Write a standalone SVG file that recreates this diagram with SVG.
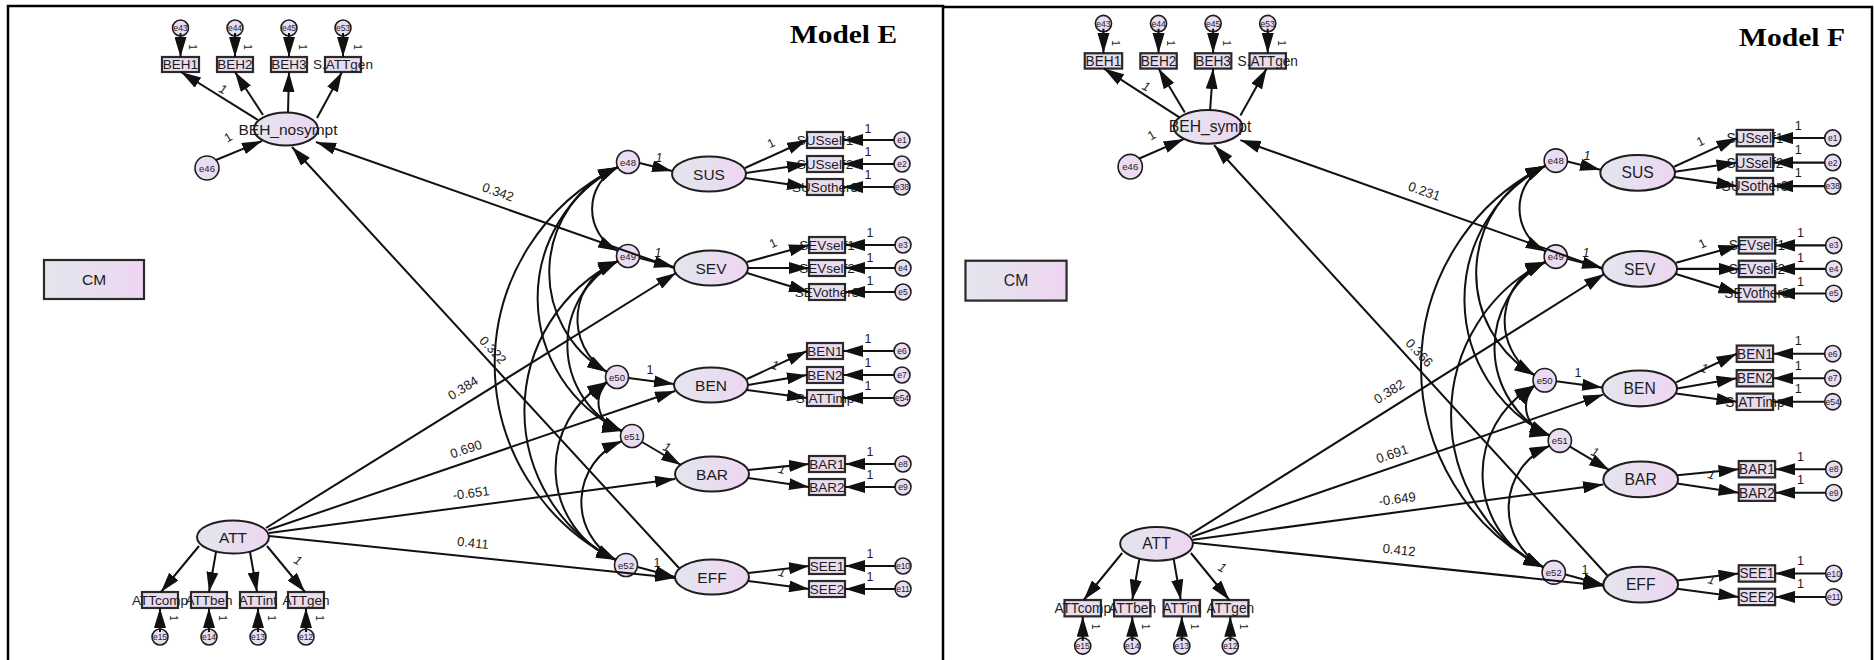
<svg xmlns="http://www.w3.org/2000/svg" width="1874" height="660" viewBox="0 0 1874 660">
<defs>
<linearGradient id="g" x1="0" y1="0" x2="1" y2="0"><stop offset="0" stop-color="#e2e6ee"/><stop offset="1" stop-color="#eed6f1"/></linearGradient>
<marker id="ah" markerUnits="userSpaceOnUse" viewBox="0 0 20 12" refX="20" refY="6" markerWidth="20" markerHeight="12" orient="auto-start-reverse"><path d="M0,0 L20,6 L0,12 z" fill="#111"/></marker>
</defs>
<style>
.ln{stroke:#111;stroke-width:2;fill:none}
.ar{marker-end:url(#ah)}
.cv{stroke:#111;stroke-width:2;fill:none;marker-start:url(#ah);marker-end:url(#ah)}
.lat{fill:url(#g);stroke:#1e1e1e;stroke-width:2}
.obs{fill:#e9dcef;stroke:#2a2a2a;stroke-width:2.2}
.err{fill:#eadcf2;stroke:#1e1e1e;stroke-width:1.6}
.cm{fill:url(#g);stroke:#2a2a2a;stroke-width:2.2}
.t{font-family:"Liberation Sans",Arial,sans-serif;fill:#1c1c1c;text-anchor:middle}
.tl{font-size:15.5px}
.to{font-size:13.5px}
.te{font-size:8.5px}
.tb{font-size:9.5px}
.tn{font-size:12.5px}
.ts{font-size:10px}
.it{font-style:italic}
.tc{font-size:13px}
.title{font-family:"Liberation Serif","Times New Roman",serif;font-weight:bold;font-size:26px;fill:#000;text-anchor:middle}
.frame{stroke:#000;stroke-width:2.5;fill:none}
</style>
<rect width="1874" height="660" fill="#fff"/>
<g id="frames">
<path class="frame" d="M8,660 L8,6 L943,6 L943,660"/>
<path class="frame" d="M943,7 L1872,7 L1872,660"/>
</g>
<text class="title" x="843.5" y="43" textLength="107" lengthAdjust="spacingAndGlyphs">Model E</text>
<text class="title" x="1792" y="46" textLength="106" lengthAdjust="spacingAndGlyphs">Model F</text>

<!-- ================= MODEL E ================= -->
<g id="modelE">
<g id="E-nodes">
<g id="E-BEH"><ellipse class="lat" cx="286" cy="129" rx="32" ry="16.5"/><text class="t tl" x="288" y="134.5">BEH_nosympt</text></g>
<g id="E-BEH1"><rect class="obs" x="162" y="57" width="37" height="15"/><text class="t to" x="180.5" y="69.4">BEH1</text></g>
<g id="E-BEH2"><rect class="obs" x="217" y="57" width="36" height="15"/><text class="t to" x="235" y="69.4">BEH2</text></g>
<g id="E-BEH3"><rect class="obs" x="271" y="57" width="36" height="15"/><text class="t to" x="289" y="69.4">BEH3</text></g>
<g id="E-SATTgen"><rect class="obs" x="325" y="57" width="36" height="15"/><text class="t to" x="343" y="69.4">S.ATTgen</text></g>
<g id="E-e43"><circle class="err" cx="180.5" cy="28" r="8"/><text class="t te" x="180.5" y="31">e43</text></g>
<g id="E-e44"><circle class="err" cx="235" cy="28" r="8"/><text class="t te" x="235" y="31">e44</text></g>
<g id="E-e45"><circle class="err" cx="289" cy="28" r="8"/><text class="t te" x="289" y="31">e45</text></g>
<g id="E-e53"><circle class="err" cx="343" cy="28" r="8"/><text class="t te" x="343" y="31">e53</text></g>
<g id="E-e46"><circle class="err" cx="207" cy="168" r="12"/><text class="t tb" x="207" y="171.5">e46</text></g>
<g id="E-CM"><rect class="cm" x="44" y="260" width="100" height="39"/><text class="t tl" x="94" y="285">CM</text></g>
<g id="E-ATT"><ellipse class="lat" cx="233" cy="537" rx="36" ry="16.5"/><text class="t tl" x="233" y="542.5">ATT</text></g>
<g id="E-ATTcomp"><rect class="obs" x="142" y="592" width="36" height="16"/><text class="t to" x="160" y="604.8">ATTcomp</text></g>
<g id="E-ATTbeh"><rect class="obs" x="191" y="592" width="36" height="16"/><text class="t to" x="209" y="604.8">ATTbeh</text></g>
<g id="E-ATTint"><rect class="obs" x="240" y="592" width="36" height="16"/><text class="t to" x="258" y="604.8">ATTint</text></g>
<g id="E-ATTgen"><rect class="obs" x="288" y="592" width="36" height="16"/><text class="t to" x="306" y="604.8">ATTgen</text></g>
<g id="E-e15"><circle class="err" cx="160" cy="637" r="8"/><text class="t te" x="160" y="640">e15</text></g>
<g id="E-e14"><circle class="err" cx="209" cy="637" r="8"/><text class="t te" x="209" y="640">e14</text></g>
<g id="E-e13"><circle class="err" cx="258" cy="637" r="8"/><text class="t te" x="258" y="640">e13</text></g>
<g id="E-e12"><circle class="err" cx="306" cy="637" r="8"/><text class="t te" x="306" y="640">e12</text></g>
<g id="E-e48"><circle class="err" cx="628" cy="162" r="11.5"/><text class="t tb" x="628" y="165.5">e48</text></g>
<g id="E-e49"><circle class="err" cx="628" cy="256" r="11.5"/><text class="t tb" x="628" y="259.5">e49</text></g>
<g id="E-e50"><circle class="err" cx="617" cy="377" r="11.5"/><text class="t tb" x="617" y="380.5">e50</text></g>
<g id="E-e51"><circle class="err" cx="632" cy="436" r="11.5"/><text class="t tb" x="632" y="439.5">e51</text></g>
<g id="E-e52"><circle class="err" cx="626" cy="565" r="11.5"/><text class="t tb" x="626" y="568.5">e52</text></g>
<g id="E-SUS"><ellipse class="lat" cx="709" cy="174" rx="37" ry="17.5"/><text class="t tl" x="709" y="179.5">SUS</text></g>
<g id="E-SEV"><ellipse class="lat" cx="711" cy="268" rx="37" ry="17.5"/><text class="t tl" x="711" y="273.5">SEV</text></g>
<g id="E-BEN"><ellipse class="lat" cx="711" cy="385" rx="37" ry="17.5"/><text class="t tl" x="711" y="390.5">BEN</text></g>
<g id="E-BAR"><ellipse class="lat" cx="712" cy="474" rx="37" ry="17.5"/><text class="t tl" x="712" y="479.5">BAR</text></g>
<g id="E-EFF"><ellipse class="lat" cx="712" cy="577" rx="37" ry="17.5"/><text class="t tl" x="712" y="582.5">EFF</text></g>
<g id="E-SUSself1"><rect class="obs" x="807" y="132" width="36" height="16"/><text class="t to" x="825" y="144.8">SUSself1</text></g>
<g id="E-SUSself2"><rect class="obs" x="807" y="156" width="36" height="16"/><text class="t to" x="825" y="168.8">SUSself2</text></g>
<g id="E-SUSother3"><rect class="obs" x="807" y="179" width="36" height="16"/><text class="t to" x="825" y="191.8">SUSother3</text></g>
<g id="E-SEVself1"><rect class="obs" x="809" y="237" width="36" height="16"/><text class="t to" x="827" y="249.8">SEVself1</text></g>
<g id="E-SEVself2"><rect class="obs" x="809" y="260" width="36" height="16"/><text class="t to" x="827" y="272.8">SEVself2</text></g>
<g id="E-SEVother3"><rect class="obs" x="809" y="284" width="36" height="16"/><text class="t to" x="827" y="296.8">SEVother3</text></g>
<g id="E-BEN1"><rect class="obs" x="807" y="343" width="36" height="16"/><text class="t to" x="825" y="355.8">BEN1</text></g>
<g id="E-BEN2"><rect class="obs" x="807" y="367" width="36" height="16"/><text class="t to" x="825" y="379.8">BEN2</text></g>
<g id="E-SATTimp"><rect class="obs" x="807" y="390" width="36" height="16"/><text class="t to" x="825" y="402.8">S.ATTimp</text></g>
<g id="E-BAR1"><rect class="obs" x="809" y="456" width="36" height="16"/><text class="t to" x="827" y="468.8">BAR1</text></g>
<g id="E-BAR2"><rect class="obs" x="809" y="479" width="36" height="16"/><text class="t to" x="827" y="491.8">BAR2</text></g>
<g id="E-SEE1"><rect class="obs" x="809" y="558" width="36" height="16"/><text class="t to" x="827" y="570.8">SEE1</text></g>
<g id="E-SEE2"><rect class="obs" x="809" y="581" width="36" height="16"/><text class="t to" x="827" y="593.8">SEE2</text></g>
<g id="E-e1"><circle class="err" cx="902" cy="140" r="8"/><text class="t te" x="902" y="143">e1</text></g>
<g id="E-e2"><circle class="err" cx="902" cy="164" r="8"/><text class="t te" x="902" y="167">e2</text></g>
<g id="E-e38"><circle class="err" cx="902" cy="187" r="8"/><text class="t te" x="902" y="190">e38</text></g>
<g id="E-e3"><circle class="err" cx="903" cy="245" r="8"/><text class="t te" x="903" y="248">e3</text></g>
<g id="E-e4"><circle class="err" cx="903" cy="268" r="8"/><text class="t te" x="903" y="271">e4</text></g>
<g id="E-e5"><circle class="err" cx="903" cy="292" r="8"/><text class="t te" x="903" y="295">e5</text></g>
<g id="E-e6"><circle class="err" cx="902" cy="351" r="8"/><text class="t te" x="902" y="354">e6</text></g>
<g id="E-e7"><circle class="err" cx="902" cy="375" r="8"/><text class="t te" x="902" y="378">e7</text></g>
<g id="E-e54"><circle class="err" cx="902" cy="398" r="8"/><text class="t te" x="902" y="401">e54</text></g>
<g id="E-e8"><circle class="err" cx="903" cy="464" r="8"/><text class="t te" x="903" y="467">e8</text></g>
<g id="E-e9"><circle class="err" cx="903" cy="487" r="8"/><text class="t te" x="903" y="490">e9</text></g>
<g id="E-e10"><circle class="err" cx="903" cy="566" r="8"/><text class="t te" x="903" y="569">e10</text></g>
<g id="E-e11"><circle class="err" cx="903" cy="589" r="8"/><text class="t te" x="903" y="592">e11</text></g>
</g>
<g id="E-connectors">
<path class="ln ar" d="M180.5,33 L180.5,57"/>
<path class="ln ar" d="M235,33 L235,57"/>
<path class="ln ar" d="M289,33 L289,57"/>
<path class="ln ar" d="M343,33 L343,57"/>
<path class="ln ar" d="M258,120 L181,72"/>
<path class="ln ar" d="M263,115 L235,72"/>
<path class="ln ar" d="M288,112.5 L289,72"/>
<path class="ln ar" d="M317,118 L342,72"/>
<path class="ln ar" d="M216,160 L262,141"/>
<path class="ln ar" d="M199,546 L161,592"/>
<path class="ln ar" d="M216,552 L209,592"/>
<path class="ln ar" d="M250,552 L257,592"/>
<path class="ln ar" d="M267,546 L305,592"/>
<path class="ln ar" d="M160,632 L160,608"/>
<path class="ln ar" d="M209,632 L209,608"/>
<path class="ln ar" d="M258,632 L258,608"/>
<path class="ln ar" d="M306,632 L306,608"/>
<path class="ln ar" d="M639.5,163 L672,171"/>
<path class="ln ar" d="M639.5,258 L674,267"/>
<path class="ln ar" d="M628.5,378 L674,384"/>
<path class="ln ar" d="M642,442 L681,465"/>
<path class="ln ar" d="M637.5,567 L675,577"/>
<path class="ln ar" d="M266,528 L676,273"/>
<path class="ln ar" d="M268,530 L675,391"/>
<path class="ln ar" d="M269,533 L675,479"/>
<path class="ln ar" d="M269,536 L675,578"/>
<path class="ln ar" d="M674,268 L316,142"/>
<path class="ln ar" d="M679,568 L292,147"/>
<path class="ln ar" d="M745,168 L807,140"/>
<path class="ln ar" d="M746,173 L807,164"/>
<path class="ln ar" d="M745,178 L807,187"/>
<path class="ln ar" d="M747,262 L809,245"/>
<path class="ln ar" d="M748,268 L809,268"/>
<path class="ln ar" d="M747,273 L809,292"/>
<path class="ln ar" d="M747,379 L807,351"/>
<path class="ln ar" d="M748,385 L807,375"/>
<path class="ln ar" d="M747,390 L807,398"/>
<path class="ln ar" d="M748,470 L809,464"/>
<path class="ln ar" d="M748,478 L809,487"/>
<path class="ln ar" d="M748,573 L809,566"/>
<path class="ln ar" d="M748,581 L809,589"/>
<path class="ln ar" d="M894,140 L843,140"/>
<path class="ln ar" d="M894,164 L843,164"/>
<path class="ln ar" d="M894,187 L843,187"/>
<path class="ln ar" d="M895,245 L845,245"/>
<path class="ln ar" d="M895,268 L845,268"/>
<path class="ln ar" d="M895,292 L845,292"/>
<path class="ln ar" d="M894,351 L843,351"/>
<path class="ln ar" d="M894,375 L843,375"/>
<path class="ln ar" d="M894,398 L843,398"/>
<path class="ln ar" d="M895,464 L845,464"/>
<path class="ln ar" d="M895,487 L845,487"/>
<path class="ln ar" d="M895,566 L845,566"/>
<path class="ln ar" d="M895,589 L845,589"/>
<path class="cv" d="M618,167 A47,47 0 0 0 618,251"/>
<path class="cv" d="M618,167 A115,115 0 0 0 607,372"/>
<path class="cv" d="M618,167 A147,147 0 0 0 622,431"/>
<path class="cv" d="M618,167 A219,219 0 0 0 616,560"/>
<path class="cv" d="M618,261 A62,62 0 0 0 607,372"/>
<path class="cv" d="M618,261 A95,95 0 0 0 622,431"/>
<path class="cv" d="M618,261 A167,167 0 0 0 616,560"/>
<path class="cv" d="M607,382 A29,29 0 0 0 622,431"/>
<path class="cv" d="M607,382 A99,99 0 0 0 616,560"/>
<path class="cv" d="M622,441 A66,66 0 0 0 616,560"/>
</g>
<g id="E-labels">
<text class="t tc" transform="translate(498,192) rotate(19.3)" y="4.5">0.342</text>
<text class="t tc" transform="translate(493,350) rotate(47)" y="4.5">0.322</text>
<text class="t tc" transform="translate(463,388) rotate(-32)" y="4.5">0.384</text>
<text class="t tc" transform="translate(466,449) rotate(-18.5)" y="4.5">0.690</text>
<text class="t tc" transform="translate(471,493) rotate(-7.5)" y="4.5">-0.651</text>
<text class="t tc" transform="translate(473,543) rotate(6)" y="4.5">0.411</text>
<text class="t ts" transform="translate(192.5,47) rotate(90)" y="3.5">1</text>
<text class="t ts" transform="translate(247,47) rotate(90)" y="3.5">1</text>
<text class="t ts" transform="translate(302,47) rotate(90)" y="3.5">1</text>
<text class="t ts" transform="translate(357,47) rotate(90)" y="3.5">1</text>
<text class="t ts" transform="translate(173,618) rotate(90)" y="3.5">1</text>
<text class="t ts" transform="translate(222,618) rotate(90)" y="3.5">1</text>
<text class="t ts" transform="translate(271,618) rotate(90)" y="3.5">1</text>
<text class="t ts" transform="translate(319,618) rotate(90)" y="3.5">1</text>
<text class="t tn it" transform="translate(223,89) rotate(25)" y="4.5">1</text>
<text class="t tn" transform="translate(228,137) rotate(-30)" y="4.5">1</text>
<text class="t tn it" transform="translate(298,560) rotate(30)" y="4.5">1</text>
<text class="t tn" transform="translate(771,143) rotate(-25)" y="4.5">1</text>
<text class="t tn" transform="translate(773,243) rotate(-25)" y="4.5">1</text>
<text class="t tn it" transform="translate(775,365) rotate(15)" y="4.5">1</text>
<text class="t tn it" transform="translate(782,469) rotate(15)" y="4.5">1</text>
<text class="t tn it" transform="translate(782,572) rotate(15)" y="4.5">1</text>
<text class="t tn it" x="659" y="161.5">1</text>
<text class="t tn it" x="658" y="256.5">1</text>
<text class="t tn" x="650" y="373.5">1</text>
<text class="t tn it" transform="translate(667,447) rotate(25)" y="4.5">1</text>
<text class="t tn" x="657" y="566.5">1</text>
<text class="t tn" x="868" y="132.5">1</text>
<text class="t tn" x="868" y="155.5">1</text>
<text class="t tn" x="868" y="178.5">1</text>
<text class="t tn" x="870" y="236.5">1</text>
<text class="t tn" x="870" y="261.5">1</text>
<text class="t tn" x="870" y="284.5">1</text>
<text class="t tn" x="868" y="342.5">1</text>
<text class="t tn" x="868" y="366.5">1</text>
<text class="t tn" x="868" y="389.5">1</text>
<text class="t tn" x="870" y="455.5">1</text>
<text class="t tn" x="870" y="478.5">1</text>
<text class="t tn" x="870" y="557.5">1</text>
<text class="t tn" x="870" y="580.5">1</text>
</g>
</g>

<!-- ================= MODEL F ================= -->
<g id="modelF" transform="translate(921,-5) scale(1.0108,1.022)">
<g id="F-nodes">
<g id="F-BEH"><ellipse class="lat" cx="284" cy="129" rx="34" ry="16.5"/><text class="t tl" x="286" y="134.5">BEH_sympt</text></g>
<g id="F-BEH1"><rect class="obs" x="162" y="57" width="37" height="15"/><text class="t to" x="180.5" y="69.4">BEH1</text></g>
<g id="F-BEH2"><rect class="obs" x="217" y="57" width="36" height="15"/><text class="t to" x="235" y="69.4">BEH2</text></g>
<g id="F-BEH3"><rect class="obs" x="271" y="57" width="36" height="15"/><text class="t to" x="289" y="69.4">BEH3</text></g>
<g id="F-SATTgen"><rect class="obs" x="325" y="57" width="36" height="15"/><text class="t to" x="343" y="69.4">S.ATTgen</text></g>
<g id="F-e43"><circle class="err" cx="180.5" cy="28" r="8"/><text class="t te" x="180.5" y="31">e43</text></g>
<g id="F-e44"><circle class="err" cx="235" cy="28" r="8"/><text class="t te" x="235" y="31">e44</text></g>
<g id="F-e45"><circle class="err" cx="289" cy="28" r="8"/><text class="t te" x="289" y="31">e45</text></g>
<g id="F-e53"><circle class="err" cx="343" cy="28" r="8"/><text class="t te" x="343" y="31">e53</text></g>
<g id="F-e46"><circle class="err" cx="207" cy="168" r="12"/><text class="t tb" x="207" y="171.5">e46</text></g>
<g id="F-CM"><rect class="cm" x="44" y="260" width="100" height="39"/><text class="t tl" x="94" y="285">CM</text></g>
<g id="F-ATT"><ellipse class="lat" cx="233" cy="537" rx="36" ry="16.5"/><text class="t tl" x="233" y="542.5">ATT</text></g>
<g id="F-ATTcomp"><rect class="obs" x="142" y="592" width="36" height="16"/><text class="t to" x="160" y="604.8">ATTcomp</text></g>
<g id="F-ATTbeh"><rect class="obs" x="191" y="592" width="36" height="16"/><text class="t to" x="209" y="604.8">ATTbeh</text></g>
<g id="F-ATTint"><rect class="obs" x="240" y="592" width="36" height="16"/><text class="t to" x="258" y="604.8">ATTint</text></g>
<g id="F-ATTgen"><rect class="obs" x="288" y="592" width="36" height="16"/><text class="t to" x="306" y="604.8">ATTgen</text></g>
<g id="F-e15"><circle class="err" cx="160" cy="637" r="8"/><text class="t te" x="160" y="640">e15</text></g>
<g id="F-e14"><circle class="err" cx="209" cy="637" r="8"/><text class="t te" x="209" y="640">e14</text></g>
<g id="F-e13"><circle class="err" cx="258" cy="637" r="8"/><text class="t te" x="258" y="640">e13</text></g>
<g id="F-e12"><circle class="err" cx="306" cy="637" r="8"/><text class="t te" x="306" y="640">e12</text></g>
<g id="F-e48"><circle class="err" cx="628" cy="162" r="11.5"/><text class="t tb" x="628" y="165.5">e48</text></g>
<g id="F-e49"><circle class="err" cx="628" cy="256" r="11.5"/><text class="t tb" x="628" y="259.5">e49</text></g>
<g id="F-e50"><circle class="err" cx="617" cy="377" r="11.5"/><text class="t tb" x="617" y="380.5">e50</text></g>
<g id="F-e51"><circle class="err" cx="632" cy="436" r="11.5"/><text class="t tb" x="632" y="439.5">e51</text></g>
<g id="F-e52"><circle class="err" cx="626" cy="565" r="11.5"/><text class="t tb" x="626" y="568.5">e52</text></g>
<g id="F-SUS"><ellipse class="lat" cx="709" cy="174" rx="37" ry="17.5"/><text class="t tl" x="709" y="179.5">SUS</text></g>
<g id="F-SEV"><ellipse class="lat" cx="711" cy="268" rx="37" ry="17.5"/><text class="t tl" x="711" y="273.5">SEV</text></g>
<g id="F-BEN"><ellipse class="lat" cx="711" cy="385" rx="37" ry="17.5"/><text class="t tl" x="711" y="390.5">BEN</text></g>
<g id="F-BAR"><ellipse class="lat" cx="712" cy="474" rx="37" ry="17.5"/><text class="t tl" x="712" y="479.5">BAR</text></g>
<g id="F-EFF"><ellipse class="lat" cx="712" cy="577" rx="37" ry="17.5"/><text class="t tl" x="712" y="582.5">EFF</text></g>
<g id="F-SUSself1"><rect class="obs" x="807" y="132" width="36" height="16"/><text class="t to" x="825" y="144.8">SUSself1</text></g>
<g id="F-SUSself2"><rect class="obs" x="807" y="156" width="36" height="16"/><text class="t to" x="825" y="168.8">SUSself2</text></g>
<g id="F-SUSother3"><rect class="obs" x="807" y="179" width="36" height="16"/><text class="t to" x="825" y="191.8">SUSother3</text></g>
<g id="F-SEVself1"><rect class="obs" x="809" y="237" width="36" height="16"/><text class="t to" x="827" y="249.8">SEVself1</text></g>
<g id="F-SEVself2"><rect class="obs" x="809" y="260" width="36" height="16"/><text class="t to" x="827" y="272.8">SEVself2</text></g>
<g id="F-SEVother3"><rect class="obs" x="809" y="284" width="36" height="16"/><text class="t to" x="827" y="296.8">SEVother3</text></g>
<g id="F-BEN1"><rect class="obs" x="807" y="343" width="36" height="16"/><text class="t to" x="825" y="355.8">BEN1</text></g>
<g id="F-BEN2"><rect class="obs" x="807" y="367" width="36" height="16"/><text class="t to" x="825" y="379.8">BEN2</text></g>
<g id="F-SATTimp"><rect class="obs" x="807" y="390" width="36" height="16"/><text class="t to" x="825" y="402.8">S.ATTimp</text></g>
<g id="F-BAR1"><rect class="obs" x="809" y="456" width="36" height="16"/><text class="t to" x="827" y="468.8">BAR1</text></g>
<g id="F-BAR2"><rect class="obs" x="809" y="479" width="36" height="16"/><text class="t to" x="827" y="491.8">BAR2</text></g>
<g id="F-SEE1"><rect class="obs" x="809" y="558" width="36" height="16"/><text class="t to" x="827" y="570.8">SEE1</text></g>
<g id="F-SEE2"><rect class="obs" x="809" y="581" width="36" height="16"/><text class="t to" x="827" y="593.8">SEE2</text></g>
<g id="F-e1"><circle class="err" cx="902" cy="140" r="8"/><text class="t te" x="902" y="143">e1</text></g>
<g id="F-e2"><circle class="err" cx="902" cy="164" r="8"/><text class="t te" x="902" y="167">e2</text></g>
<g id="F-e38"><circle class="err" cx="902" cy="187" r="8"/><text class="t te" x="902" y="190">e38</text></g>
<g id="F-e3"><circle class="err" cx="903" cy="245" r="8"/><text class="t te" x="903" y="248">e3</text></g>
<g id="F-e4"><circle class="err" cx="903" cy="268" r="8"/><text class="t te" x="903" y="271">e4</text></g>
<g id="F-e5"><circle class="err" cx="903" cy="292" r="8"/><text class="t te" x="903" y="295">e5</text></g>
<g id="F-e6"><circle class="err" cx="902" cy="351" r="8"/><text class="t te" x="902" y="354">e6</text></g>
<g id="F-e7"><circle class="err" cx="902" cy="375" r="8"/><text class="t te" x="902" y="378">e7</text></g>
<g id="F-e54"><circle class="err" cx="902" cy="398" r="8"/><text class="t te" x="902" y="401">e54</text></g>
<g id="F-e8"><circle class="err" cx="903" cy="464" r="8"/><text class="t te" x="903" y="467">e8</text></g>
<g id="F-e9"><circle class="err" cx="903" cy="487" r="8"/><text class="t te" x="903" y="490">e9</text></g>
<g id="F-e10"><circle class="err" cx="903" cy="566" r="8"/><text class="t te" x="903" y="569">e10</text></g>
<g id="F-e11"><circle class="err" cx="903" cy="589" r="8"/><text class="t te" x="903" y="592">e11</text></g>
</g>
<g id="F-connectors">
<path class="ln ar" d="M180.5,33 L180.5,57"/>
<path class="ln ar" d="M235,33 L235,57"/>
<path class="ln ar" d="M289,33 L289,57"/>
<path class="ln ar" d="M343,33 L343,57"/>
<path class="ln ar" d="M256,120 L181,72"/>
<path class="ln ar" d="M261,115 L235,72"/>
<path class="ln ar" d="M286,112.5 L289,72"/>
<path class="ln ar" d="M316,118 L342,72"/>
<path class="ln ar" d="M216,160 L260,141"/>
<path class="ln ar" d="M199,546 L161,592"/>
<path class="ln ar" d="M216,552 L209,592"/>
<path class="ln ar" d="M250,552 L257,592"/>
<path class="ln ar" d="M267,546 L305,592"/>
<path class="ln ar" d="M160,632 L160,608"/>
<path class="ln ar" d="M209,632 L209,608"/>
<path class="ln ar" d="M258,632 L258,608"/>
<path class="ln ar" d="M306,632 L306,608"/>
<path class="ln ar" d="M639.5,163 L672,171"/>
<path class="ln ar" d="M639.5,258 L674,267"/>
<path class="ln ar" d="M628.5,378 L674,384"/>
<path class="ln ar" d="M642,442 L681,465"/>
<path class="ln ar" d="M637.5,567 L675,577"/>
<path class="ln ar" d="M266,528 L676,273"/>
<path class="ln ar" d="M268,530 L675,391"/>
<path class="ln ar" d="M269,533 L675,479"/>
<path class="ln ar" d="M269,536 L675,578"/>
<path class="ln ar" d="M674,268 L316,142"/>
<path class="ln ar" d="M679,568 L290,147"/>
<path class="ln ar" d="M745,168 L807,140"/>
<path class="ln ar" d="M746,173 L807,164"/>
<path class="ln ar" d="M745,178 L807,187"/>
<path class="ln ar" d="M747,262 L809,245"/>
<path class="ln ar" d="M748,268 L809,268"/>
<path class="ln ar" d="M747,273 L809,292"/>
<path class="ln ar" d="M747,379 L807,351"/>
<path class="ln ar" d="M748,385 L807,375"/>
<path class="ln ar" d="M747,390 L807,398"/>
<path class="ln ar" d="M748,470 L809,464"/>
<path class="ln ar" d="M748,478 L809,487"/>
<path class="ln ar" d="M748,573 L809,566"/>
<path class="ln ar" d="M748,581 L809,589"/>
<path class="ln ar" d="M894,140 L843,140"/>
<path class="ln ar" d="M894,164 L843,164"/>
<path class="ln ar" d="M894,187 L843,187"/>
<path class="ln ar" d="M895,245 L845,245"/>
<path class="ln ar" d="M895,268 L845,268"/>
<path class="ln ar" d="M895,292 L845,292"/>
<path class="ln ar" d="M894,351 L843,351"/>
<path class="ln ar" d="M894,375 L843,375"/>
<path class="ln ar" d="M894,398 L843,398"/>
<path class="ln ar" d="M895,464 L845,464"/>
<path class="ln ar" d="M895,487 L845,487"/>
<path class="ln ar" d="M895,566 L845,566"/>
<path class="ln ar" d="M895,589 L845,589"/>
<path class="cv" d="M618,167 A47,47 0 0 0 618,251"/>
<path class="cv" d="M618,167 A115,115 0 0 0 607,372"/>
<path class="cv" d="M618,167 A147,147 0 0 0 622,431"/>
<path class="cv" d="M618,167 A219,219 0 0 0 616,560"/>
<path class="cv" d="M618,261 A62,62 0 0 0 607,372"/>
<path class="cv" d="M618,261 A95,95 0 0 0 622,431"/>
<path class="cv" d="M618,261 A167,167 0 0 0 616,560"/>
<path class="cv" d="M607,382 A29,29 0 0 0 622,431"/>
<path class="cv" d="M607,382 A99,99 0 0 0 616,560"/>
<path class="cv" d="M622,441 A66,66 0 0 0 616,560"/>
</g>
<g id="F-labels">
<text class="t tc" transform="translate(498,192) rotate(19.3)" y="4.5">0.231</text>
<text class="t tc" transform="translate(493,350) rotate(47)" y="4.5">0.366</text>
<text class="t tc" transform="translate(463,388) rotate(-32)" y="4.5">0.382</text>
<text class="t tc" transform="translate(466,449) rotate(-18.5)" y="4.5">0.691</text>
<text class="t tc" transform="translate(471,493) rotate(-7.5)" y="4.5">-0.649</text>
<text class="t tc" transform="translate(473,543) rotate(6)" y="4.5">0.412</text>
<text class="t ts" transform="translate(192.5,47) rotate(90)" y="3.5">1</text>
<text class="t ts" transform="translate(247,47) rotate(90)" y="3.5">1</text>
<text class="t ts" transform="translate(302,47) rotate(90)" y="3.5">1</text>
<text class="t ts" transform="translate(357,47) rotate(90)" y="3.5">1</text>
<text class="t ts" transform="translate(173,618) rotate(90)" y="3.5">1</text>
<text class="t ts" transform="translate(222,618) rotate(90)" y="3.5">1</text>
<text class="t ts" transform="translate(271,618) rotate(90)" y="3.5">1</text>
<text class="t ts" transform="translate(319,618) rotate(90)" y="3.5">1</text>
<text class="t tn it" transform="translate(223,89) rotate(25)" y="4.5">1</text>
<text class="t tn" transform="translate(228,137) rotate(-30)" y="4.5">1</text>
<text class="t tn it" transform="translate(298,560) rotate(30)" y="4.5">1</text>
<text class="t tn" transform="translate(771,143) rotate(-25)" y="4.5">1</text>
<text class="t tn" transform="translate(773,243) rotate(-25)" y="4.5">1</text>
<text class="t tn it" transform="translate(775,365) rotate(15)" y="4.5">1</text>
<text class="t tn it" transform="translate(782,469) rotate(15)" y="4.5">1</text>
<text class="t tn it" transform="translate(782,572) rotate(15)" y="4.5">1</text>
<text class="t tn it" x="659" y="161.5">1</text>
<text class="t tn it" x="658" y="256.5">1</text>
<text class="t tn" x="650" y="373.5">1</text>
<text class="t tn it" transform="translate(667,447) rotate(25)" y="4.5">1</text>
<text class="t tn" x="657" y="566.5">1</text>
<text class="t tn" x="868" y="132.5">1</text>
<text class="t tn" x="868" y="155.5">1</text>
<text class="t tn" x="868" y="178.5">1</text>
<text class="t tn" x="870" y="236.5">1</text>
<text class="t tn" x="870" y="261.5">1</text>
<text class="t tn" x="870" y="284.5">1</text>
<text class="t tn" x="868" y="342.5">1</text>
<text class="t tn" x="868" y="366.5">1</text>
<text class="t tn" x="868" y="389.5">1</text>
<text class="t tn" x="870" y="455.5">1</text>
<text class="t tn" x="870" y="478.5">1</text>
<text class="t tn" x="870" y="557.5">1</text>
<text class="t tn" x="870" y="580.5">1</text>
</g>
</g>
</svg>
